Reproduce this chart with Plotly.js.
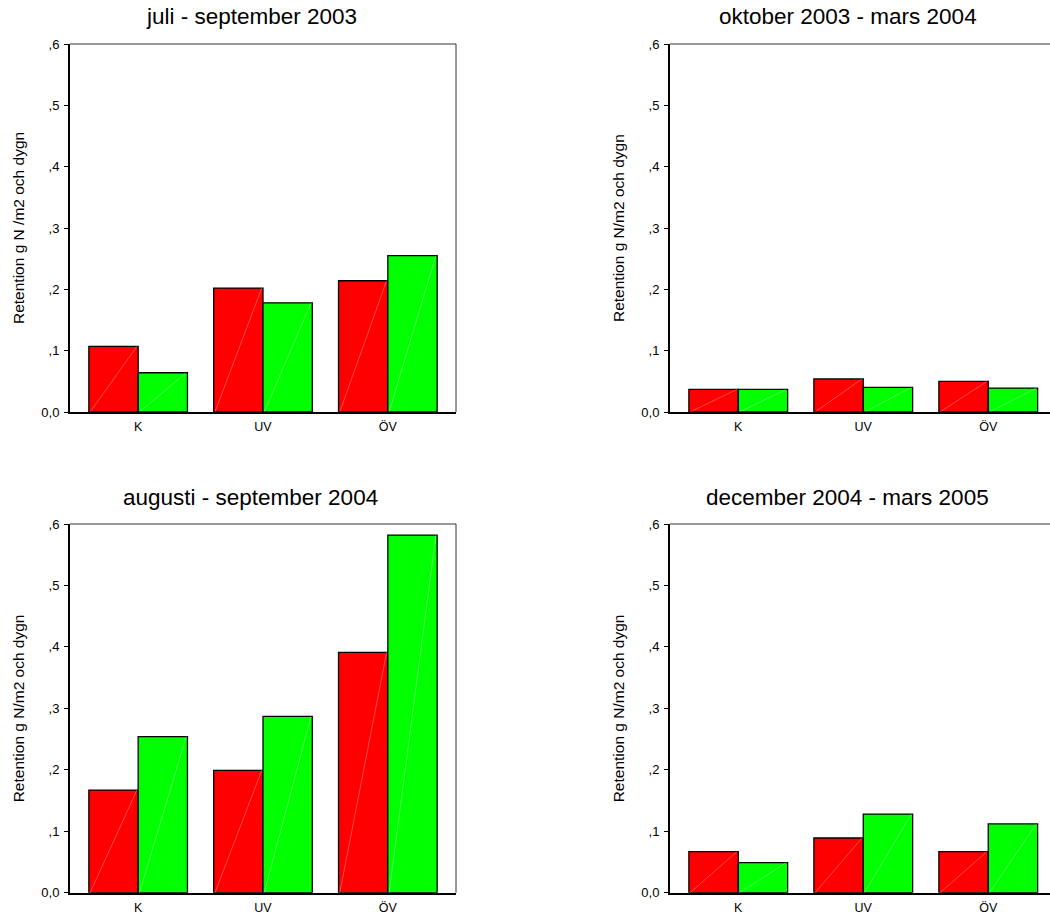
<!DOCTYPE html>
<html>
<head>
<meta charset="utf-8">
<script src="https://cdn.plot.ly/plotly-3.0.1.min.js"></script>
<style>html,body{margin:0;padding:0;background:#fff;overflow:hidden;}#chart{width:1050px;height:915px;}</style>
</head>
<body>
<div id="chart"></div>
<script>
// ---- data ----
const categories = ["K", "UV", "ÖV"];
const panelTitles = ["juli - september 2003", "oktober 2003 - mars 2004", "augusti - september 2004", "december 2004 - mars 2005"];
const yTitles = ["Retention g N /m2 och dygn", "Retention g N/m2 och dygn", "Retention g N/m2 och dygn", "Retention g N/m2 och dygn"];
const yTickVals = [0, 0.1, 0.2, 0.3, 0.4, 0.5, 0.6];
const yTickText = ["0,0", ",1", ",2", ",3", ",4", ",5", ",6"];

const julSep2003Red   = [0.107, 0.202, 0.214];
const julSep2003Green = [0.064, 0.178, 0.255];
const okt03Mar04Red   = [0.037, 0.054, 0.050];
const okt03Mar04Green = [0.037, 0.040, 0.039];
const augSep2004Red   = [0.167, 0.199, 0.391];
const augSep2004Green = [0.254, 0.287, 0.582];
const dec04Mar05Red   = [0.067, 0.089, 0.067];
const dec04Mar05Green = [0.049, 0.128, 0.112];

const panelsRed = [julSep2003Red, okt03Mar04Red, augSep2004Red, dec04Mar05Red];
const panelsGreen = [julSep2003Green, okt03Mar04Green, augSep2004Green, dec04Mar05Green];

// ---- layout constants ----
const W = 1050, H = 915;
const BARGAP = 0.21;
const half = (1 - BARGAP) / 2;
const FONT = "Liberation Sans, Arial, Helvetica, sans-serif";
const px = v => v / W;
const py = v => 1 - v / H;

const geom = [
  {l: 70,  r: 456,  t: 44,  b: 412,   xr: [-0.546, 2.546], full: true,  titleX: 251, yTitleX: 18},
  {l: 670, r: 1050, t: 44,  b: 412,   xr: [-0.546, 2.494], full: false, titleX: 848, yTitleX: 618},
  {l: 70,  r: 456,  t: 524, b: 892.7, xr: [-0.546, 2.546], full: true,  titleX: 250, yTitleX: 18},
  {l: 670, r: 1050, t: 524, b: 892.7, xr: [-0.546, 2.494], full: false, titleX: 847, yTitleX: 618}
];

const idx = categories.map((c, i) => i);
const traces = [];
const layout = {
  width: W, height: H,
  margin: {l: 0, r: 0, t: 0, b: 0, autoexpand: false},
  paper_bgcolor: "#ffffff", plot_bgcolor: "#ffffff",
  showlegend: false,
  barmode: "group", bargap: BARGAP, bargroupgap: 0,
  font: {family: FONT, color: "#000000", size: 12},
  annotations: [], shapes: []
};

geom.forEach((g, k) => {
  const n = k === 0 ? "" : String(k + 1);
  const xa = "x" + n, ya = "y" + n;
  traces.push({
    type: "bar", x: idx, y: panelsRed[k], xaxis: xa, yaxis: ya,
    marker: {color: "#ff0000", line: {color: "#000000", width: 1.3}},
    hoverinfo: "y", name: "röd"
  });
  traces.push({
    type: "bar", x: idx, y: panelsGreen[k], xaxis: xa, yaxis: ya,
    marker: {color: "#00ff00", line: {color: "#000000", width: 1.3}},
    hoverinfo: "y", name: "grön"
  });
  // faint diagonal fill-pattern line in each bar (derived from the data)
  [[panelsRed[k], -half, 0], [panelsGreen[k], 0, half]].forEach(([vals, o0, o1]) => {
    const lx = [], ly = [];
    vals.forEach((v, i) => { lx.push(i + o0 + 0.01, i + o1 - 0.01, null); ly.push(0, v, null); });
    traces.push({type: "scatter", mode: "lines", x: lx, y: ly, xaxis: xa, yaxis: ya,
      line: {color: "rgba(255,255,255,0.5)", width: 0.6}, hoverinfo: "skip", showlegend: false});
  });

  layout["xaxis" + n] = {
    domain: [px(g.l), px(g.r)], range: g.xr, anchor: ya,
    tickvals: idx, ticktext: categories, ticks: "", ticklabelstandoff: 2,
    showline: true, linecolor: "#000000", linewidth: 2,
    showgrid: false, zeroline: false, fixedrange: true,
    tickfont: {family: FONT, size: 12.5, color: "#000000"}
  };
  layout["yaxis" + n] = {
    domain: [py(g.b), py(g.t)], range: [0, 0.6], anchor: xa,
    tickvals: yTickVals, ticktext: yTickText, ticklabelstandoff: 2,
    ticks: "outside", ticklen: 4, tickwidth: 1, tickcolor: "#000000",
    showline: true, linecolor: "#000000", linewidth: 2,
    showgrid: false, zeroline: false, fixedrange: true,
    tickfont: {family: FONT, size: 13, color: "#000000"}
  };
  layout.shapes.push({type: "line", xref: xa + " domain", yref: ya + " domain",
    x0: 0, x1: 1, y0: 1, y1: 1, line: {color: "#333333", width: 1}});
  if (g.full) {
    layout.shapes.push({type: "line", xref: xa + " domain", yref: ya + " domain",
      x0: 1, x1: 1, y0: 0, y1: 1, line: {color: "#333333", width: 1}});
  }
  layout.annotations.push({
    text: panelTitles[k], xref: "paper", yref: "paper",
    x: px(g.titleX), y: py(g.t - 27), xanchor: "center", yanchor: "middle",
    showarrow: false, font: {family: FONT, size: 22.5, color: "#000000"}
  });
  layout.annotations.push({
    text: yTitles[k], xref: "paper", yref: "paper", textangle: -90,
    x: px(g.yTitleX), y: py((g.t + g.b) / 2), xanchor: "center", yanchor: "middle",
    showarrow: false, font: {family: FONT, size: 15.5, color: "#000000"}
  });
});

Plotly.newPlot("chart", traces, layout, {displayModeBar: false, staticPlot: true});
</script>
</body>
</html>
